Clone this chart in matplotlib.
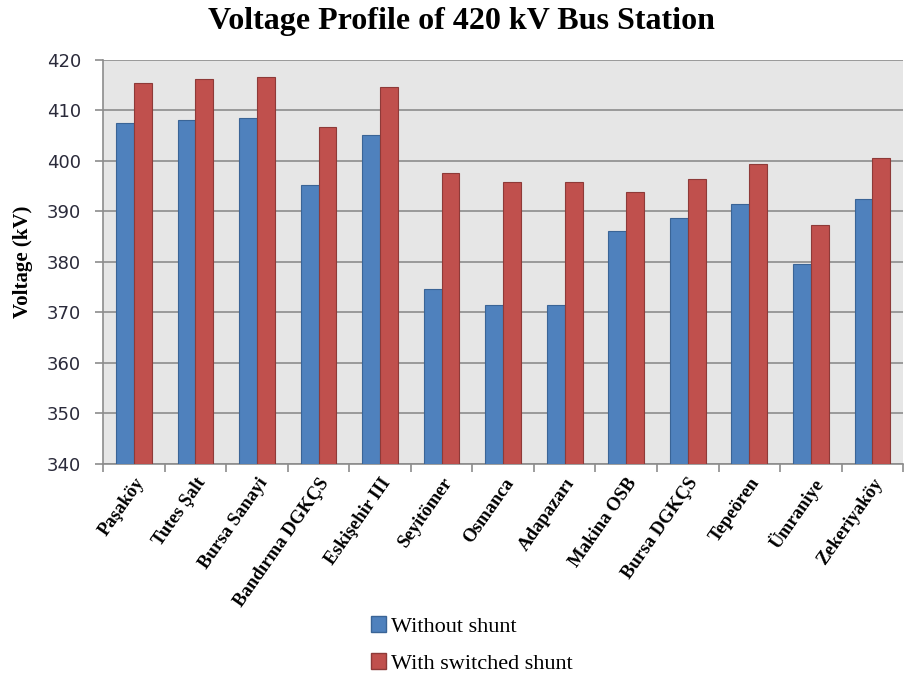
import numpy as np
import matplotlib.pyplot as plt
from matplotlib.patches import Patch

# Stations and voltage values (kV)
stations = ['Paşaköy', 'Tutes Şalt', 'Bursa Sanayi', 'Bandırma DGKÇS', 'Eskişehir III',
            'Seyitömer', 'Osmanca', 'Adapazarı', 'Makina OSB', 'Bursa DGKÇS',
            'Tepeören', 'Ümraniye', 'Zekeriyaköy']
without_shunt = [407.5, 408.1, 408.4, 395.2, 405.1, 374.6, 371.4, 371.4, 386.1, 388.7, 391.4, 379.6, 392.5]
with_shunt = [415.4, 416.2, 416.6, 406.6, 414.5, 397.5, 395.8, 395.8, 393.7, 396.4, 399.3, 387.3, 400.5]

blue = '#4F81BD'
red = '#C0504D'
serif = ['Liberation Serif', 'DejaVu Serif']

fig = plt.figure(figsize=(9.05, 6.77), dpi=100)
ax = fig.add_axes([0.114, 0.315, 0.884, 0.597])

x = np.arange(len(stations))
w = 0.29
ax.bar(x - w / 2, np.array(without_shunt) - 340, w, bottom=340, color=blue,
       edgecolor='#3A6496', linewidth=0.8, zorder=3)
ax.bar(x + w / 2, np.array(with_shunt) - 340, w, bottom=340, color=red,
       edgecolor='#8E3A38', linewidth=0.8, zorder=3)

ax.set_ylim(340, 420)
ax.set_xlim(-0.5, len(stations) - 0.5)
ax.set_yticks(np.arange(340, 421, 10))
ax.set_facecolor('#E6E6E6')
ax.grid(axis='y', color='#8C8C8C', linewidth=1.2, zorder=1)

for s in ['top', 'right']:
    ax.spines[s].set_visible(False)
for s in ['left', 'bottom']:
    ax.spines[s].set_color('#8C8C8C')
    ax.spines[s].set_linewidth(1.2)

# ticks at category boundaries, labels at centres
ax.set_xticks(np.arange(len(stations) + 1) - 0.5)
ax.set_xticklabels([])
ax.set_xticks(x, minor=True)
ax.set_xticklabels(stations, minor=True, rotation=55, ha='right', rotation_mode='anchor',
                   fontfamily=serif, fontweight='bold', fontsize=13.5)
ax.tick_params(axis='x', which='minor', length=0, pad=8)
ax.tick_params(axis='x', which='major', length=6, color='#8C8C8C', width=1.2)
ax.tick_params(axis='y', length=6, color='#8C8C8C', width=1.2, labelsize=13,
               labelcolor='#2A2A3A', pad=10)

ax.set_ylabel('Voltage (kV)', fontfamily=serif, fontweight='bold', fontsize=15, labelpad=10)
fig.suptitle('Voltage Profile of 420 kV Bus Station', fontfamily=serif, fontweight='bold',
             fontsize=23, x=0.51, y=0.99)

handles = [Patch(facecolor=blue, edgecolor='#3A6496', label='Without shunt'),
           Patch(facecolor=red, edgecolor='#8E3A38', label='With switched shunt')]
fig.legend(handles=handles, loc='upper left', bbox_to_anchor=(0.400, 0.103),
           frameon=False, prop={'family': serif, 'size': 16}, handlelength=0.7,
           handleheight=0.7, handletextpad=0.2, labelspacing=0.75, borderaxespad=0)

fig.savefig('out.png', dpi=100)
